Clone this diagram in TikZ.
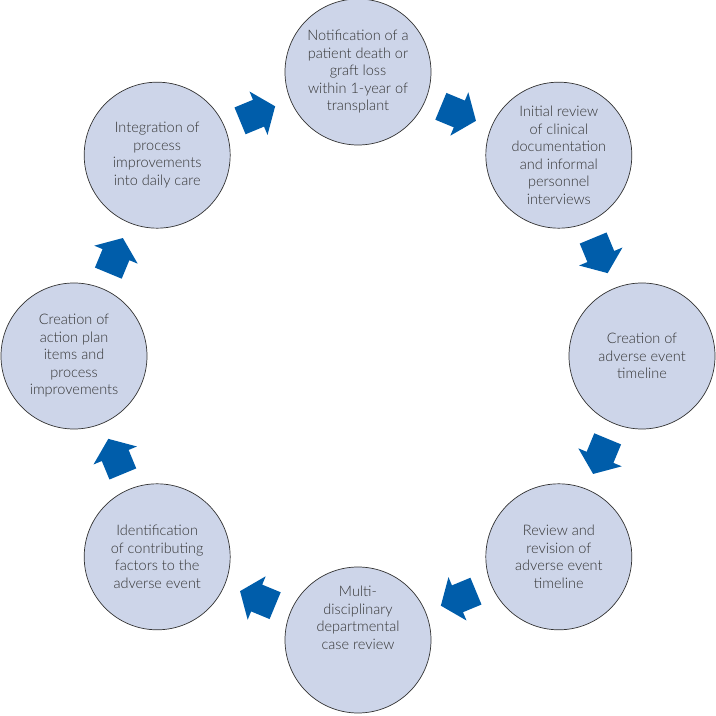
\documentclass[tikz,border=0pt]{standalone}
\usepackage{fontspec}
\setmainfont{Lato Light}
\usetikzlibrary{calc}
\definecolor{circfill}{HTML}{CDD5E9}
\definecolor{arrblue}{HTML}{005DAA}
\definecolor{txtgray}{HTML}{333333}
\tikzset{
  stage/.style={circle, draw=black!80, line width=0.7pt, fill=circfill,
    minimum size=146pt, inner sep=0pt, align=center, text=txtgray,
    font=\fontsize{14.5}{17.5}\selectfont},
  stagetext/.style={align=center, text=txtgray, inner sep=0pt,
    font=\fontsize{14.5}{17.5}\selectfont},
  blockarrow/.pic={\fill[arrblue] (-19,-14.5) -- (1,-14.5) -- (1,-23.5) -- (19,0)
     -- (1,23.5) -- (1,14.5) -- (-19,14.5) -- cycle;}
}
\begin{document}
\begin{tikzpicture}[x=1pt,y=1pt]
\useasboundingbox (0,0) rectangle (716,716);
\coordinate (o) at (358,360);
\node[stage] (c1) at ($(o)+(90:284pt)$) {Notification of a\\patient death or\\graft loss\\within 1-year of\\transplant};
\node[stage] (c2) at ($(o)+(45:284pt)$) {Initial review\\of clinical\\documentation\\and informal\\personnel\\interviews};
\node[stage] (c3) at ($(o)+(0:284pt)$) {Creation of\\adverse event\\timeline};
\node[stage] (c4) at ($(o)+(-45:284pt)$) {Review and\\revision of\\adverse event\\timeline};
\node[stage] (c5) at ($(o)+(-90:284pt)$) {};
\node[stagetext] (t5) at ([yshift=22pt]c5.center) {Multi-\\disciplinary\\departmental\\case review};
\node[stage] (c6) at ($(o)+(-135:284pt)$) {Identification\\of contributing\\factors to the\\adverse event};
\node[stage] (c7) at ($(o)+(180:284pt)$) {Creation of\\action plan\\items and\\process\\improvements};
\node[stage] (c8) at ($(o)+(135:284pt)$) {Integration of\\process\\improvements\\into daily care};
\pic[rotate=22.5] at ($(c8.center)!0.5!(c1.center)$) {blockarrow};
\pic[rotate=-22.5] at ($(c1.center)!0.5!(c2.center)$) {blockarrow};
\pic[rotate=-67.5] at ($(c2.center)!0.5!(c3.center)$) {blockarrow};
\pic[rotate=-112.5] at ($(c3.center)!0.5!(c4.center)$) {blockarrow};
\pic[rotate=-157.5] at ($(c4.center)!0.5!(c5.center)$) {blockarrow};
\pic[rotate=-202.5] at ($(c5.center)!0.5!(c6.center)$) {blockarrow};
\pic[rotate=-247.5] at ($(c6.center)!0.5!(c7.center)$) {blockarrow};
\pic[rotate=67.5] at ($(c7.center)!0.5!(c8.center)$) {blockarrow};
\end{tikzpicture}
\end{document}
